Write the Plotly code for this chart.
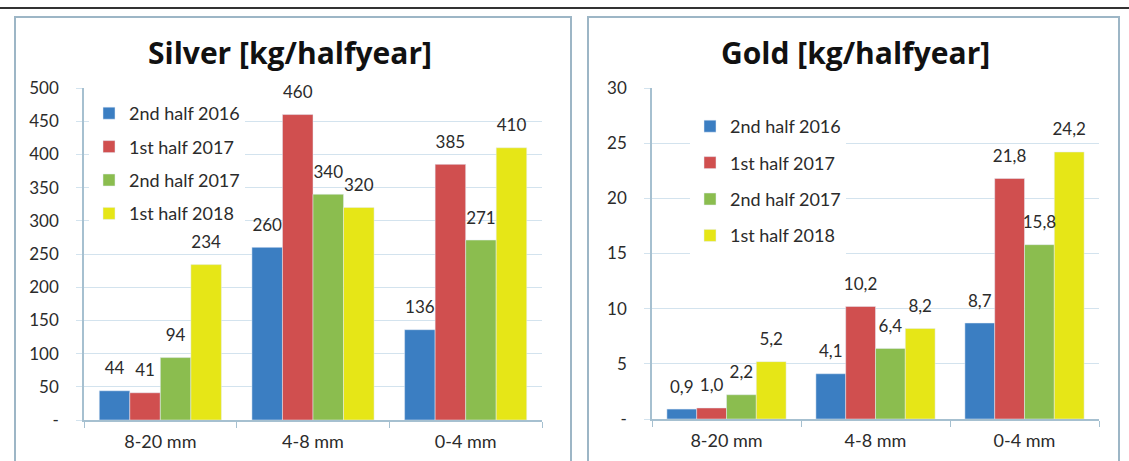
import plotly.graph_objects as go

categories = ["8-20 mm", "4-8 mm", "0-4 mm"]
series_names = ["2nd half 2016", "1st half 2017", "2nd half 2017", "1st half 2018"]
colors = ["#3b7ec2", "#d04f4f", "#8bbd4f", "#e6e617"]

silver_2016h2 = [44, 260, 136]
silver_2017h1 = [41, 460, 385]
silver_2017h2 = [94, 340, 271]
silver_2018h1 = [234, 320, 410]

gold_2016h2 = [0.9, 4.1, 8.7]
gold_2017h1 = [1.0, 10.2, 21.8]
gold_2017h2 = [2.2, 6.4, 15.8]
gold_2018h1 = [5.2, 8.2, 24.2]

silver_ticks = [0, 50, 100, 150, 200, 250, 300, 350, 400, 450, 500]
gold_ticks = [0, 5, 10, 15, 20, 25, 30]

silver = [silver_2016h2, silver_2017h1, silver_2017h2, silver_2018h1]
gold = [gold_2016h2, gold_2017h1, gold_2017h2, gold_2018h1]

W, H = 1129, 461
FONT = "Lato"
TXT = "#2b2b2b"
GRID = "#d3e3ee"
AXL = "#a6c0d0"
FS = 17

fig = go.Figure()

def fmt_silver(v):
    return str(v)

def fmt_gold(v):
    return ("%.1f" % v).replace(".", ",")

panels = [("x", "y", "legend", silver, fmt_silver), ("x2", "y2", "legend2", gold, fmt_gold)]
for xa, ya, lg, data, fmt in panels:
    for i, name in enumerate(series_names):
        fig.add_trace(go.Bar(
            x=categories, y=data[i], name=name, marker_color=colors[i],
            xaxis=xa, yaxis=ya, legend=lg, legendgroup=lg + str(i),
            hoverinfo="x+y+name",
        ))
    for i, name in enumerate(series_names):
        fig.add_trace(go.Scatter(
            x=categories, y=data[i], mode="markers+text", name=name,
            text=[fmt(v) for v in data[i]], textposition="top center",
            marker=dict(size=18, color="rgba(0,0,0,0)"),
            textfont=dict(size=FS, color=TXT, family=FONT), cliponaxis=False,
            xaxis=xa, yaxis=ya, showlegend=False, hoverinfo="skip",
        ))

def px(x):
    return x / W

def py(y):
    return 1 - y / H

xcommon = dict(type="category", showgrid=False, showline=True, linecolor=AXL, linewidth=1.5,
               ticks="outside", tickson="boundaries", ticklen=6, tickcolor=AXL, automargin=False,
               ticklabelstandoff=5,
               tickfont=dict(size=FS + 1, color=TXT, family=FONT), fixedrange=True)
ycommon = dict(showgrid=True, gridcolor=GRID, gridwidth=1, showline=True, linecolor=AXL, linewidth=1.5,
               ticks="outside", ticklen=6, tickcolor=GRID, zeroline=False, automargin=False,
               ticklabelstandoff=14,
               tickfont=dict(size=FS, color=TXT, family=FONT), fixedrange=True)

legfont = dict(size=18, color=TXT, family=FONT)

fig.update_layout(
    width=W, height=H,
    margin=dict(l=0, r=0, t=0, b=0, pad=0, autoexpand=False),
    paper_bgcolor="white", plot_bgcolor="white",
    barmode="group", bargap=0.2, bargroupgap=0,
    scattermode="group",
    font=dict(family=FONT, color=TXT),
    showlegend=True,
    xaxis=dict(domain=[px(84), px(542)], anchor="y", **xcommon),
    yaxis=dict(domain=[py(420), py(88)], anchor="x", range=[0, 500],
               tickvals=silver_ticks, ticktext=["-"] + [str(t) for t in silver_ticks[1:]], **ycommon),
    xaxis2=dict(domain=[px(652), px(1099)], anchor="y2", **xcommon),
    yaxis2=dict(domain=[py(419), py(88)], anchor="x2", range=[0, 30],
                tickvals=gold_ticks, ticktext=["-"] + [str(t) for t in gold_ticks[1:]], **ycommon),
    legend=dict(x=px(89), y=py(95), xanchor="left", yanchor="top", bgcolor="white",
                font=legfont, traceorder="grouped", tracegroupgap=7, itemclick=False),
    legend2=dict(x=px(690), y=py(108), xanchor="left", yanchor="top", bgcolor="white",
                 font=legfont, traceorder="grouped", tracegroupgap=10, itemclick=False),
    annotations=[
        dict(text="<b>Silver [kg/halfyear]</b>", x=px(290), y=py(53), xref="paper", yref="paper",
             xanchor="center", yanchor="middle",
             showarrow=False, font=dict(size=30, color="#111", family="Open Sans")),
        dict(text="<b>Gold [kg/halfyear]</b>", x=px(855), y=py(53), xref="paper", yref="paper",
             xanchor="center", yanchor="middle",
             showarrow=False, font=dict(size=30, color="#111", family="Open Sans")),
    ],
    shapes=[
        dict(type="line", xref="paper", yref="paper", x0=0, x1=1, y0=py(8), y1=py(8),
             line=dict(color="#333333", width=2)),
        dict(type="rect", xref="paper", yref="paper", x0=px(15), x1=px(571), y0=-0.05, y1=py(17),
             line=dict(color="#9db6c6", width=2)),
        dict(type="rect", xref="paper", yref="paper", x0=px(588), x1=px(1119), y0=-0.05, y1=py(17),
             line=dict(color="#9db6c6", width=2)),
    ],
)

fig.write_html("out.html", config={"displayModeBar": False},
               post_script="document.body.style.margin='0';")
